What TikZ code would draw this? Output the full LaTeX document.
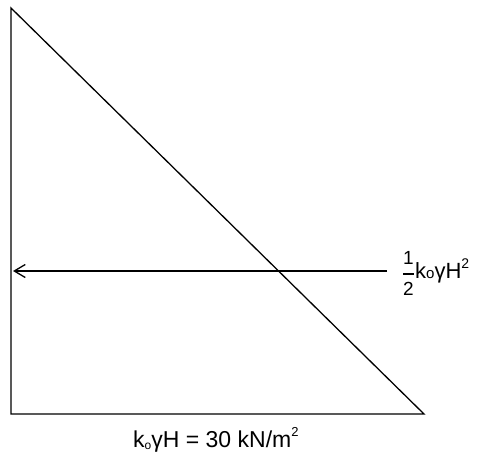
\documentclass[tikz,border=0pt]{standalone}
\usepackage{fontspec}
\setmainfont{Liberation Sans}
\usetikzlibrary{arrows.meta,positioning}
\newcommand{\subo}[1]{{\fontsize{#1}{#1}\selectfont o}}
\newcommand{\supsq}[2]{\raisebox{#2}{\fontsize{#1}{#1}\selectfont 2}}
\begin{document}
\begin{tikzpicture}[
    x=1pt, y=-1pt,
    side/.style={line width=1.3pt, black},
    force/.style={line width=1.3pt, black, -{Straight Barb[length=11pt, width=13pt, line width=1.3pt]}},
    lbl/.style={font=\fontsize{22}{26}\selectfont, inner sep=0pt},
    digit/.style={font=\fontsize{19}{19}\selectfont, inner sep=0pt}
]
    \useasboundingbox (0,0) rectangle (480,452);
    \coordinate (Top) at (11,8);
    \coordinate (Heel) at (11,414);
    \coordinate (Toe) at (424,414);
    \coordinate (P) at (13,271);
    \coordinate (Ptail) at (387,271);

    \draw[side] (Top) -- (Heel) -- (Toe) -- cycle;
    \draw[force] (Ptail) -- (P);

    \coordinate (BarL) at (403,274);
    \coordinate (BarR) at (414,274);
    \draw[line width=1.2pt] (BarL) -- (BarR);
    \node[digit, anchor=base] (One) at (408.5,264) {1};
    \node[digit, anchor=base] (Two) at (408.5,295) {2};
    \node[lbl, anchor=base west] (Plabel) at (415,278) {k\subo{15}γH\supsq{14}{10pt}};
    \node[lbl, font=\fontsize{23}{27}\selectfont, anchor=base west] (Base) at (133,447)
        {k\raisebox{-2pt}{\subo{12}}γH = 30 kN/m\supsq{13}{11pt}};
\end{tikzpicture}
\end{document}
